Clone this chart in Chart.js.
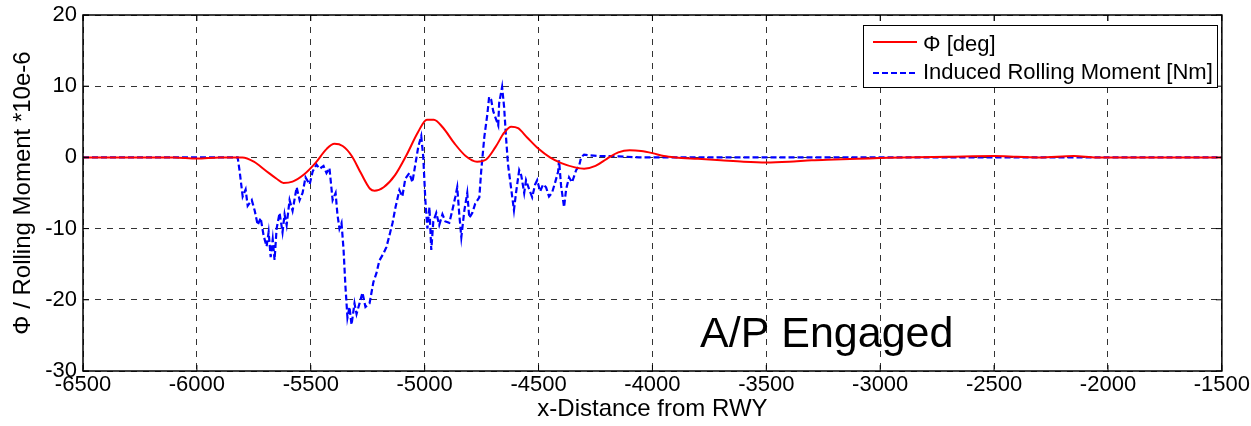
<!DOCTYPE html>
<html>
<head>
<meta charset="utf-8">
<script src="https://cdn.jsdelivr.net/npm/chart.js@4/dist/chart.umd.min.js"></script>
<style>
  html, body { margin: 0; padding: 0; background: #fff; }
  #wrap { width: 1251px; height: 426px; }
</style>
</head>
<body>
<div id="wrap"><canvas id="chart" width="1251" height="426"></canvas></div>
<script>
// Roll angle (red) - x distance / value pairs
const phiX = [-6500, -6100, -6000, -5900, -5800, -5750, -5700, -5650, -5620, -5580, -5530, -5480, -5430, -5396, -5360, -5320, -5280, -5240, -5220, -5180, -5130, -5080, -5030, -4990, -4960, -4920, -4870, -4820, -4770, -4730, -4690, -4650, -4620, -4590, -4550, -4500, -4450, -4400, -4340, -4300, -4250, -4200, -4150, -4100, -4050, -4000, -3950, -3900, -3800, -3700, -3600, -3500, -3400, -3300, -3200, -3100, -3000, -2900, -2700, -2500, -2400, -2300, -2150, -2050, -1500];
const phiY = [0, 0, -0.15, 0, 0, -0.6, -1.8, -3.0, -3.6, -3.4, -2.4, -0.8, 1.2, 1.9, 1.6, 0.2, -2.2, -4.4, -4.7, -4.2, -2.5, 0.3, 3.5, 5.3, 5.3, 4.2, 2.0, 0.2, -0.6, -0.3, 1.4, 3.5, 4.3, 4.1, 2.8, 1.2, 0, -0.8, -1.4, -1.6, -1.2, -0.2, 0.7, 1.0, 0.9, 0.6, 0.2, 0, -0.2, -0.4, -0.6, -0.7, -0.6, -0.4, -0.3, -0.2, -0.1, 0, 0.1, 0.2, 0.1, 0, 0.2, 0, 0];

// Induced rolling moment (blue, dashed)
const momX = [-6500, -5830, -5821, -5812, -5799, -5786, -5777, -5768, -5759, -5746, -5733, -5720, -5707, -5694, -5685, -5676, -5667, -5659, -5650, -5637, -5624, -5615, -5606, -5593, -5580, -5562, -5549, -5536, -5523, -5505, -5492, -5475, -5461, -5444, -5431, -5418, -5404, -5391, -5383, -5374, -5365, -5356, -5348, -5339, -5330, -5321, -5308, -5299, -5286, -5273, -5260, -5242, -5225, -5212, -5199, -5181, -5168, -5155, -5141, -5128, -5111, -5098, -5085, -5067, -5054, -5041, -5028, -5015, -5006, -4997, -4988, -4979, -4971, -4962, -4949, -4936, -4922, -4909, -4892, -4879, -4865, -4857, -4848, -4839, -4826, -4813, -4804, -4791, -4778, -4760, -4752, -4738, -4725, -4717, -4708, -4699, -4686, -4677, -4673, -4660, -4651, -4643, -4634, -4621, -4608, -4599, -4585, -4576, -4563, -4555, -4541, -4528, -4515, -4506, -4493, -4480, -4467, -4454, -4441, -4427, -4414, -4410, -4401, -4388, -4379, -4366, -4353, -4335, -4322, -4313, -4300, -4278, -4235, -4147, -4059, -1500];
const momY = [0, 0, 0, -2, -5.5, -4.5, -6.8, -6.4, -6, -7.5, -9.5, -8.5, -11, -12.5, -10.5, -14, -11.5, -14.4, -10, -7.8, -10.5, -8, -9.5, -6, -7.5, -4.2, -6, -5, -2.8, -3.8, -2, -1, -1.6, -1.2, -2.2, -1.5, -6, -5, -8, -10, -9.2, -13, -18, -22.5, -21, -23.5, -20.5, -22, -20.5, -19, -21, -20.5, -17.5, -16.3, -14.5, -13.5, -12.6, -11, -9.2, -7, -4.6, -5.5, -3, -2.2, -3.5, -1, 1.5, 3, 0, -6, -10, -7, -13, -9, -7.8, -9.5, -8, -9, -9.2, -7.5, -5.5, -4.2, -8, -11.2, -7.5, -5, -8.5, -7.8, -6.5, -5.6, -2, 2.9, 6, 8.5, 8.1, 6.5, 5.3, 4.5, 7.6, 9.9, 7, 2.9, -1, -4.2, -7.4, -5, -1.8, -2.5, -5, -3.2, -4.5, -5.6, -3.8, -3.2, -4.8, -3.8, -4.2, -5.5, -5, -3.5, -2, -0.4, -4, -7, -4.5, -2.8, -3.5, -1.8, -1.2, 0, 0.4, 0.3, 0.2, 0.15, 0, 0];

const xTicks = [-6500, -6000, -5500, -5000, -4500, -4000, -3500, -3000, -2500, -2000, -1500];
const yTicks = [-30, -20, -10, 0, 10, 20];
const seriesLabels = ['\u03A6 [deg]', 'Induced Rolling Moment [Nm]'];

const FONT = 'Liberation Sans, Arial, sans-serif';

function toPoints(xs, ys) {
    return xs.map((x, i) => ({ x: x, y: ys[i] }));
}

// frame, legend box and annotation, drawn after the datasets
const extras = {
    id: 'extras',
    afterDatasetsDraw(chart) {
        const ctx = chart.ctx;
        const a = chart.chartArea;
        ctx.save();
        // axes box
        ctx.strokeStyle = '#000';
        ctx.lineWidth = 1.5;
        ctx.setLineDash([]);
        ctx.strokeRect(a.left, a.top, a.right - a.left, a.bottom - a.top);

        // inward tick marks
        ctx.lineWidth = 1;
        const xs = chart.scales.x, ys = chart.scales.y;
        xTicks.forEach(v => {
            const px = xs.getPixelForValue(v);
            ctx.beginPath();
            ctx.moveTo(px, a.bottom); ctx.lineTo(px, a.bottom - 6);
            ctx.moveTo(px, a.top); ctx.lineTo(px, a.top + 6);
            ctx.stroke();
        });
        yTicks.forEach(v => {
            const py = ys.getPixelForValue(v);
            ctx.beginPath();
            ctx.moveTo(a.left, py); ctx.lineTo(a.left + 6, py);
            ctx.moveTo(a.right, py); ctx.lineTo(a.right - 6, py);
            ctx.stroke();
        });

        // legend
        const lx = 863, ly = 25, lw = 354, lh = 62;
        ctx.fillStyle = '#fff';
        ctx.fillRect(lx, ly, lw, lh);
        ctx.strokeStyle = '#000';
        ctx.lineWidth = 1;
        ctx.strokeRect(lx + 0.5, ly + 0.5, lw, lh);

        ctx.lineWidth = 2;
        ctx.strokeStyle = '#ff0000';
        ctx.beginPath(); ctx.moveTo(873, 42); ctx.lineTo(917, 42); ctx.stroke();
        ctx.strokeStyle = '#0000ff';
        ctx.setLineDash([6, 3]);
        ctx.beginPath(); ctx.moveTo(873, 73); ctx.lineTo(917, 73); ctx.stroke();
        ctx.setLineDash([]);

        ctx.fillStyle = '#000';
        ctx.font = '22px ' + FONT;
        ctx.textBaseline = 'middle';
        ctx.textAlign = 'left';
        ctx.fillText(seriesLabels[0], 923, 45);
        ctx.fillText(seriesLabels[1], 923, 73);

        // annotation
        ctx.font = '43px ' + FONT;
        ctx.textBaseline = 'alphabetic';
        ctx.fillText('A/P Engaged', 700, 347);
        ctx.restore();
    }
};

const ctx = document.getElementById('chart').getContext('2d');
new Chart(ctx, {
    type: 'line',
    data: {
        datasets: [
            {
                label: seriesLabels[0],
                data: toPoints(phiX, phiY),
                borderColor: '#ff0000',
                borderWidth: 2,
                pointRadius: 0,
                cubicInterpolationMode: 'monotone'
            },
            {
                label: seriesLabels[1],
                data: toPoints(momX, momY),
                borderColor: '#0000ff',
                borderWidth: 2.2,
                borderDash: [6, 3],
                pointRadius: 0,
                tension: 0
            }
        ]
    },
    options: {
        responsive: false,
        animation: false,
        layout: { padding: { top: 15, right: 27, left: 0, bottom: 0 } },
        plugins: {
            legend: { display: false },
            tooltip: { enabled: false }
        },
        scales: {
            x: {
                type: 'linear',
                min: -6500,
                max: -1500,
                afterBuildTicks(scale) { scale.ticks = xTicks.map(v => ({ value: v })); },
                afterFit(scale) { scale.height = 55; },
                ticks: {
                    color: '#000',
                    font: { family: FONT, size: 22 },
                    padding: 1,
                    callback: v => String(v)
                },
                grid: { color: '#333', lineWidth: 1, drawTicks: false },
                border: { display: false, dash: [6, 6] },
                title: {
                    display: true,
                    text: 'x-Distance from RWY',
                    color: '#000',
                    font: { family: FONT, size: 24 },
                    padding: { top: 0, bottom: 2 }
                }
            },
            y: {
                min: -30,
                max: 20,
                afterBuildTicks(scale) { scale.ticks = yTicks.map(v => ({ value: v })); },
                afterFit(scale) { scale.width = 83; scale.paddingTop = 0; scale.paddingBottom = 0; },
                ticks: {
                    color: '#000',
                    font: { family: FONT, size: 22, lineHeight: 1 },
                    padding: 6,
                    callback: v => String(v)
                },
                grid: { color: '#333', lineWidth: 1, drawTicks: false },
                border: { display: false, dash: [6, 6] },
                title: {
                    display: true,
                    text: '\u03A6 / Rolling Moment *10e-6',
                    color: '#000',
                    font: { family: FONT, size: 24 },
                    padding: { top: 9, bottom: 0 }
                }
            }
        }
    },
    plugins: [extras]
});
</script>
</body>
</html>
